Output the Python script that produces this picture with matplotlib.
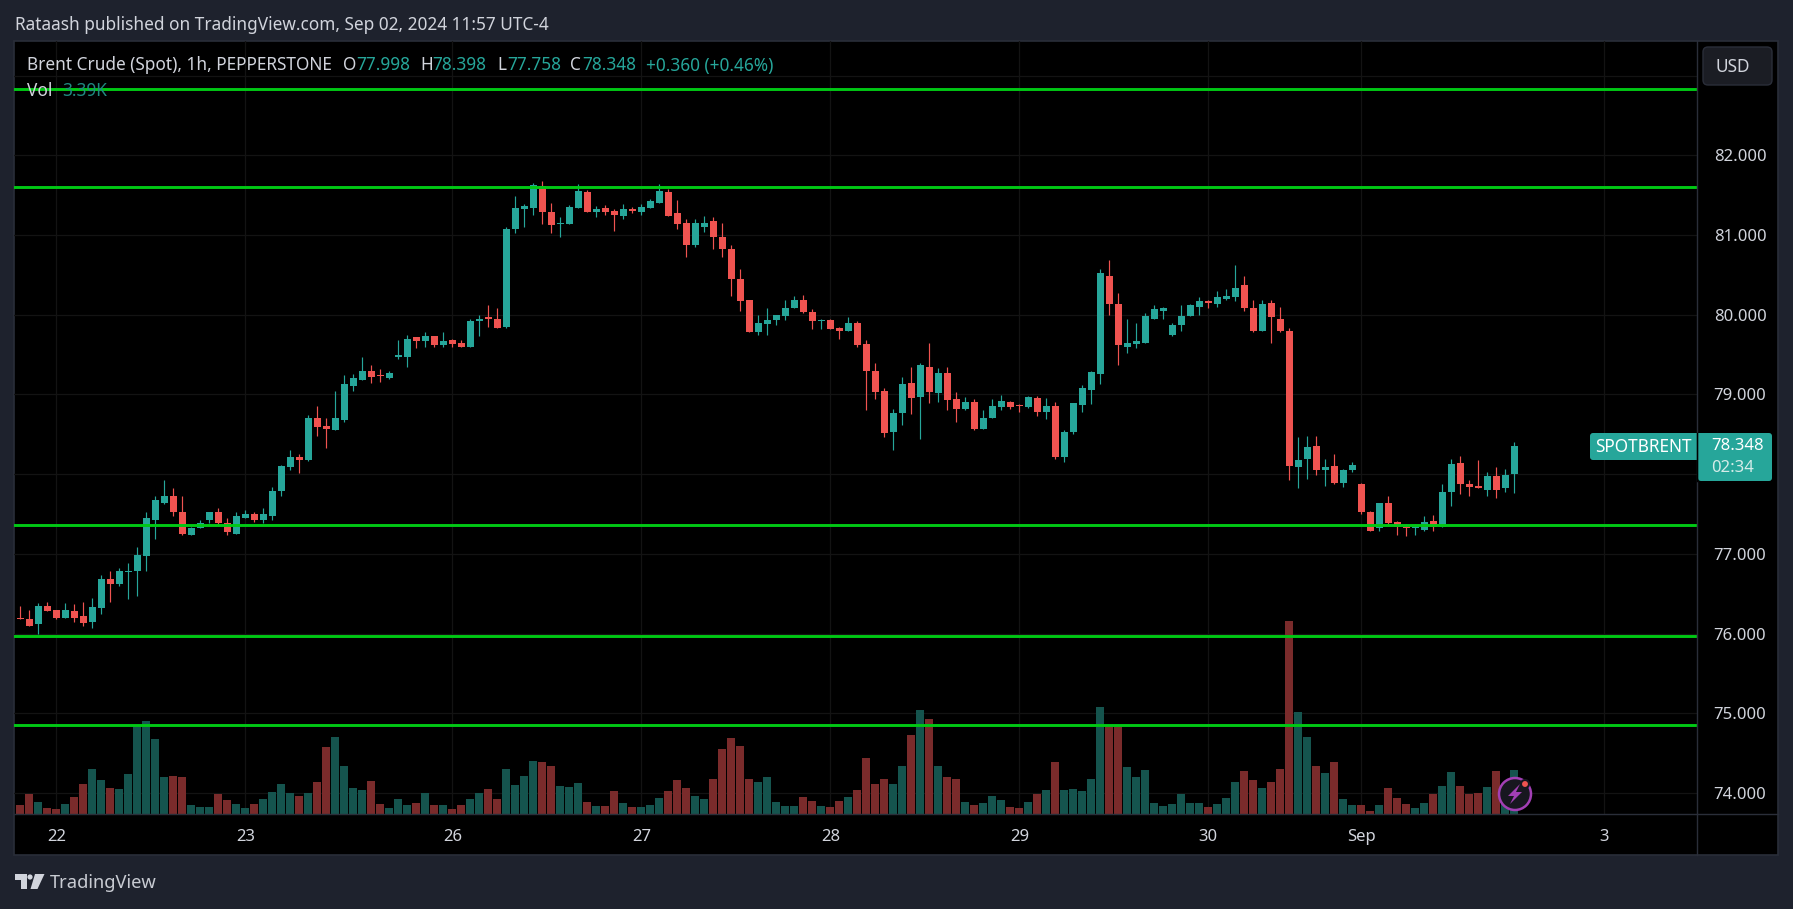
import matplotlib
matplotlib.use('Agg')
import matplotlib.pyplot as plt
from matplotlib.patches import Rectangle, FancyBboxPatch, Circle, Polygon

opens = [76.19,76.18,76.12,76.35,76.29,76.20,76.28,76.22,76.14,76.32,
         76.68,76.62,76.77,76.78,76.97,77.43,77.64,77.72,77.52,77.24,
         77.32,77.43,77.53,77.39,77.25,77.45,77.50,77.42,77.48,77.79,
         78.09,78.22,78.18,78.70,78.60,78.55,78.68,79.10,79.18,79.29,
         79.24,79.20,79.47,79.47,79.72,79.67,79.73,79.62,79.68,79.64,
         79.60,79.92,79.97,79.94,79.84,81.08,81.33,81.34,81.62,81.29,
         81.14,81.14,81.34,81.54,81.29,81.34,81.30,81.24,81.32,81.29,
         81.34,81.40,81.54,81.27,81.15,80.87,81.10,81.17,80.97,80.83,
         80.45,80.18,79.78,79.88,79.93,79.98,80.08,80.18,80.03,79.92,
         79.93,79.83,79.80,79.89,79.63,79.29,79.04,78.53,78.77,79.14,
         78.97,79.35,79.02,79.27,78.94,78.82,78.90,78.57,78.70,78.84,
         78.90,78.87,78.84,78.95,78.78,78.85,78.22,78.53,78.87,79.05,
         79.25,80.49,80.14,79.59,79.63,79.65,79.95,80.05,79.74,79.87,
         79.98,80.10,80.17,80.14,80.20,80.22,80.37,80.08,79.79,80.15,
         79.95,79.80,78.09,78.19,78.35,78.05,78.10,77.89,78.05,77.88,
         77.53,77.32,77.64,77.40,77.34,77.32,77.30,77.41,77.33,77.78,
         78.14,77.88,77.85,77.80,77.98,77.82,77.998]
highs = [76.34,76.30,76.38,76.39,76.30,76.38,76.37,76.39,76.44,76.74,
         76.79,76.82,76.89,77.08,77.52,77.73,77.93,77.83,77.72,77.34,
         77.43,77.53,77.57,77.45,77.53,77.55,77.53,77.58,77.84,78.12,
         78.30,78.25,78.74,78.85,78.70,79.04,79.24,79.25,79.47,79.37,
         79.32,79.29,79.68,79.74,79.72,79.78,79.73,79.78,79.69,79.68,
         79.95,79.99,80.12,80.08,81.10,81.49,81.39,81.65,81.68,81.40,
         81.23,81.38,81.64,81.57,81.37,81.38,81.33,81.39,81.35,81.39,
         81.45,81.64,81.58,81.44,81.20,81.20,81.24,81.23,81.15,80.88,
         80.57,80.18,80.00,80.09,79.99,80.18,80.24,80.25,80.07,79.95,
         79.94,79.85,79.97,79.92,79.68,79.40,79.08,78.82,79.22,79.34,
         79.40,79.65,79.33,79.34,79.03,78.97,78.94,78.80,78.94,78.99,
         78.92,78.88,78.98,78.98,78.95,78.90,78.55,78.89,79.12,79.29,
         80.57,80.69,80.27,79.94,79.90,80.02,80.12,80.10,79.89,80.12,
         80.13,80.22,80.18,80.30,80.32,80.62,80.49,80.18,80.18,80.19,
         80.10,79.83,78.47,78.48,78.48,78.19,78.25,78.07,78.15,77.89,
         77.54,77.64,77.73,77.41,77.37,77.37,77.47,77.49,77.88,78.19,
         78.23,77.93,78.18,78.03,78.09,78.07,78.398]
lows = [76.18,76.10,76.00,76.28,76.18,76.20,76.15,76.10,76.07,76.25,
        76.40,76.60,76.43,76.47,76.79,77.19,77.62,77.48,77.23,77.23,
        77.32,77.39,77.38,77.24,77.25,77.45,77.40,77.39,77.43,77.72,
        78.05,78.02,78.17,78.48,78.33,78.55,78.65,79.04,79.18,79.14,
        79.15,79.19,79.44,79.34,79.58,79.59,79.60,79.59,79.60,79.59,
        79.59,79.73,79.85,79.83,79.83,81.03,81.10,81.25,81.14,81.03,
        80.98,81.14,81.34,81.29,81.23,81.25,81.05,81.20,81.27,81.25,
        81.34,81.40,81.24,81.07,80.72,80.85,81.04,80.82,80.73,80.24,
        80.05,79.78,79.74,79.74,79.87,79.93,80.08,80.02,79.82,79.82,
        79.82,79.70,79.79,79.59,78.80,78.94,78.47,78.30,78.62,78.75,
        78.44,78.89,78.90,78.80,78.65,78.80,78.55,78.57,78.70,78.80,
        78.82,78.78,78.83,78.73,78.69,78.19,78.15,78.50,78.78,78.88,
        79.13,79.99,79.37,79.52,79.58,79.65,79.94,79.94,79.73,79.79,
        79.98,80.00,80.09,80.10,80.18,80.17,80.05,79.78,79.79,79.65,
        79.78,77.92,77.82,77.94,77.99,77.85,77.88,77.84,78.03,77.50,
        77.29,77.29,77.37,77.23,77.22,77.24,77.29,77.28,77.33,77.60,
        77.75,77.72,77.82,77.73,77.70,77.77,77.758]
closes = [76.18,76.10,76.35,76.28,76.20,76.29,76.19,76.13,76.33,76.69,
          76.62,76.78,76.78,76.98,77.45,77.67,77.72,77.52,77.25,77.32,
          77.39,77.53,77.39,77.27,77.48,77.50,77.42,77.50,77.79,78.10,
          78.22,78.18,78.70,78.59,78.57,78.70,79.13,79.20,79.29,79.22,
          79.23,79.27,79.50,79.70,79.67,79.73,79.62,79.67,79.63,79.60,
          79.92,79.94,79.95,79.83,81.08,81.34,81.37,81.63,81.29,81.13,
          81.15,81.35,81.55,81.29,81.33,81.29,81.25,81.33,81.30,81.35,
          81.43,81.55,81.24,81.14,80.88,81.15,81.15,80.98,80.82,80.45,
          80.17,79.78,79.89,79.93,79.99,80.08,80.19,80.03,79.92,79.93,
          79.82,79.79,79.89,79.62,79.29,79.03,78.52,78.77,79.13,78.95,
          79.37,79.03,79.27,78.93,78.82,78.90,78.57,78.70,78.85,78.92,
          78.84,78.85,78.97,78.78,78.85,78.22,78.53,78.89,79.08,79.28,
          80.52,80.14,79.62,79.65,79.67,79.98,80.07,80.08,79.87,79.98,
          80.12,80.17,80.15,80.22,80.24,80.33,80.08,79.79,80.14,79.97,
          79.79,78.10,78.18,78.34,78.05,78.09,77.89,78.05,78.12,77.52,
          77.29,77.64,77.39,77.33,77.32,77.33,77.40,77.34,77.78,78.13,
          77.87,77.84,77.82,77.97,77.80,77.99,78.348]
# volume in thousands
volumes = [0.69,1.54,0.93,0.46,0.39,0.77,1.31,2.31,3.47,2.62,
           2.00,1.93,3.08,6.75,7.17,5.78,2.85,2.93,2.85,0.69,
           0.54,0.54,1.54,1.08,0.77,0.46,0.77,1.16,1.70,2.31,
           1.62,1.39,1.62,2.47,5.17,5.94,3.70,2.00,1.85,2.54,
           0.77,0.46,1.16,0.69,0.85,1.62,0.69,0.69,0.39,0.69,
           1.16,1.62,1.93,1.16,3.47,2.24,2.93,4.09,4.01,3.70,
           2.16,2.08,2.39,0.93,0.62,0.62,1.77,0.85,0.54,0.54,
           0.69,1.23,1.77,2.62,2.00,1.39,1.16,2.70,5.01,5.86,
           5.24,2.70,2.47,2.85,0.93,0.62,0.62,1.31,1.00,0.62,
           0.54,1.00,1.31,1.85,4.32,2.31,2.70,2.31,3.70,6.09,
           8.02,7.32,3.70,2.85,2.70,0.93,0.69,0.85,1.39,1.08,
           0.54,0.46,0.93,1.54,1.85,4.01,1.85,1.93,1.77,2.70,
           8.25,6.78,6.78,3.62,2.85,3.39,0.85,0.62,0.77,1.54,
           0.85,0.85,0.54,0.77,1.23,2.47,3.32,2.62,2.00,2.47,
           3.47,14.88,7.86,5.94,3.70,3.16,4.01,1.16,0.69,0.69,
           0.23,0.69,2.00,1.23,0.77,0.46,0.85,1.54,2.16,3.24,
           2.16,1.54,1.62,2.08,3.32,1.46,3.39]
level_lines = [82.83, 81.60, 77.36, 75.965, 74.85]
price_ticks = [74, 75, 76, 77, 78, 79, 80, 81, 82, 83]
# 78 and 83 are hidden behind the price tag and the USD button
price_labels = ['74.000', '75.000', '76.000', '77.000', '', '79.000',
                '80.000', '81.000', '82.000', '']
day_ticks = [4, 25, 48, 69, 90, 111, 132, 149, 176]
day_labels = ['22', '23', '26', '27', '28', '29', '30', 'Sep', '3']

W, H = 1793, 909
FONT = 'Noto Sans'
TEAL = '#26a69a'
RED = '#ef5350'
TXT = '#d1d4dc'
PANEL = '#1e222d'
BORDER = '#2a2e39'
plt.rcParams['font.family'] = [FONT, 'DejaVu Sans']

fig = plt.figure(figsize=(W / 100, H / 100), dpi=100, facecolor=PANEL)

# page furniture behind the chart, in pixel coordinates
bg = fig.add_axes([0, 0, 1, 1], zorder=0)
bg.set_xlim(0, W)
bg.set_ylim(H, 0)
bg.axis('off')
bg.add_patch(Rectangle((13.5, 41), 1764.5, 814, fc='black', ec=BORDER, lw=1.2))

# price pane
L, R, T, B = 14, 1697, 41, 814
ax = fig.add_axes([L / W, 1 - B / H, (R - L) / W, (B - T) / H], zorder=1)
ax.set_facecolor('none')
ymin = 82 - (B - 155.3) / 79.7
ymax = 82 + (155.3 - T) / 79.7
ax.set_ylim(ymin, ymax)
ax.set_xlim((L - 20.33) / 9, (R - 20.33) / 9)

idx = list(range(len(opens)))
up = [c >= o for o, c in zip(opens, closes)]
body_colors = [TEAL if u else RED for u in up]
vol_colors = ['#15544e' if u else '#7a2b2b' for u in up]

# volume shares the pane, 0-59.6K over the full height
vol_to_price = (ymax - ymin) / 59.56
ax.bar(idx, [v * vol_to_price for v in volumes], bottom=ymin, width=0.89,
       color=vol_colors, linewidth=0, zorder=1)
ax.vlines(idx, lows, highs, colors=body_colors, linewidth=0.85, zorder=2)
ax.bar(idx, [max(abs(c - o), 0.012) for o, c in zip(opens, closes)],
       bottom=[min(o, c) for o, c in zip(opens, closes)], width=0.78,
       color=body_colors, linewidth=0, zorder=2)
for lv in level_lines:
    ax.axhline(lv, color='#00c814', linewidth=2.1, zorder=3)

ax.set_axisbelow(True)
ax.grid(True, color='#131313', linewidth=0.9)
ax.yaxis.tick_right()
ax.set_yticks(price_ticks)
ax.set_yticklabels(price_labels, fontsize=12, color=TXT)
ax.set_xticks(day_ticks)
ax.set_xticklabels(day_labels, fontsize=12, color=TXT)
ax.tick_params(axis='both', length=0)
ax.tick_params(axis='y', pad=12)
ax.tick_params(axis='x', pad=11)
for s in ax.spines.values():
    s.set_visible(False)

# everything on top of the chart
top = fig.add_axes([0, 0, 1, 1], zorder=2)
top.set_xlim(0, W)
top.set_ylim(H, 0)
top.axis('off')
top.plot([14, 1778], [814, 814], color=BORDER, lw=1)
top.plot([1697, 1697], [41, 855], color=BORDER, lw=1)


def label(x, y, s, color=TXT, size=12.4, **kw):
    top.text(x, y + 1.5, s, color=color, fontsize=size, va='center', **kw)


label(15, 23, 'Rataash published on TradingView.com, Sep 02, 2024 11:57 UTC-4')
label(27, 64, 'Brent Crude (Spot), 1h, PEPPERSTONE')
for x, s in [(343, 'O'), (420, 'H'), (497, 'L'), (570, 'C')]:
    label(x, 64, s)
for x, s in [(356, '77.998'), (432, '78.398'), (507, '77.758'), (582, '78.348'),
             (646, '+0.360 (+0.46%)')]:
    label(x, 64, s, color=TEAL)
label(27, 89, 'Vol')
label(62, 89, '3.39K', color='#1f8a80')

# currency button
top.add_patch(FancyBboxPatch((1706, 50), 63, 32, boxstyle='round,pad=3,rounding_size=5',
                             fc='#1b1d24', ec=BORDER, lw=1))
label(1733, 65, 'USD', ha='center')

# last price tags
top.add_patch(FancyBboxPatch((1593, 436), 110, 21, boxstyle='round,pad=3,rounding_size=3',
                             fc=TEAL, ec='none'))
top.add_patch(FancyBboxPatch((1701, 436), 68, 42, boxstyle='round,pad=3,rounding_size=3',
                             fc=TEAL, ec='none'))
top.plot([1697, 1697], [433, 481], color='black', lw=1)
label(1643, 445, 'SPOTBRENT', color='white', ha='center')
label(1711, 445, '78.348', color='white', size=12)
label(1711, 467, '02:34', color='#d5ece9', size=12)

# bolt badge
top.add_patch(Circle((1515, 794), 16, fc='#17171f', ec='#a23fb4', lw=1.8))
top.add_patch(Polygon([(1520, 784), (1508, 796), (1514, 796), (1510, 804), (1522, 792), (1516, 792)],
                      fc='#a23fb4', ec='none'))
top.add_patch(Circle((1525, 784), 4, fc=RED, ec='#17171f', lw=1.5))

# logo
LOGO = '#d1d4dc'
top.add_patch(Polygon([(15, 874), (27, 874), (27, 889), (21, 889), (21, 880), (15, 880)], fc=LOGO, ec='none'))
top.add_patch(Circle((30, 877), 2.6, fc=LOGO, ec='none'))
top.add_patch(Polygon([(35, 874), (44.5, 874), (37.5, 889), (30.5, 889)], fc=LOGO, ec='none'))
label(50, 882, 'TradingView', color='#c8cbd2', size=13.2)

fig.savefig('out.png', dpi=100, facecolor=PANEL)
